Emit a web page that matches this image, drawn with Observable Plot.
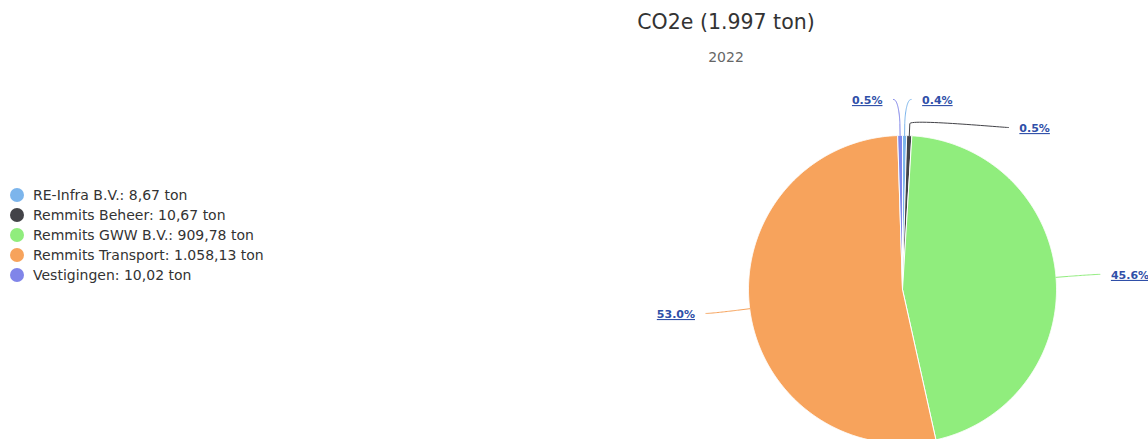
<!DOCTYPE html>
<html><head><meta charset="utf-8">
<script src="https://cdn.jsdelivr.net/npm/d3@7"></script>
<script src="https://cdn.jsdelivr.net/npm/@observablehq/plot@0.6"></script>
<style>
html,body{margin:0;padding:0;background:#fff;overflow:hidden;}
#wrap{position:relative;width:1148px;height:439px;font-family:"DejaVu Sans",sans-serif;}
#wrap svg{position:absolute;left:0;top:0;}
#title{position:absolute;left:0;width:1452px;text-align:center;top:12px;font-size:20.5px;line-height:20px;color:#333333;}
#subtitle{position:absolute;left:0;width:1452px;text-align:center;top:50px;font-size:14px;line-height:14px;color:#666666;}
#legend{position:absolute;left:10px;top:188px;font-size:14px;color:#333333;}
.li{height:20px;line-height:14px;display:flex;align-items:flex-start;white-space:nowrap;}
.sw{width:14px;height:14px;border-radius:50%;margin-right:9px;margin-top:0px;flex:none;}
g[aria-label="text"] text{text-decoration:underline;}
</style></head><body><div id="wrap"></div>
<script>
// ---- data ----
const categories = ["RE-Infra B.V.", "Remmits Beheer", "Remmits GWW B.V.", "Remmits Transport", "Vestigingen"];
const values = [8.67, 10.67, 909.78, 1058.13, 10.02];
const colors = ["#7cb5ec", "#434348", "#90ed7d", "#f7a35c", "#8085e9"];
const unit = "ton";
const metric = "CO2e";
const year = "2022";

// ---- layout ----
const W = 1148, H = 439;
const cx = 902, cy = 289, r = 154, R = 192;
const labelGap = 28, minLabelY = 99, pad = 6, breakOff = 12;

const nl = d3.formatLocale({decimal: ",", thousands: ".", grouping: [3], currency: ["€", ""]});
const total = d3.sum(values);
const data = categories.map((name, i) => ({name, value: values[i], color: colors[i]}));
const arcs = d3.pie().sort(null).value(d => d.value)(data);

// slice polygons
const slicePts = [];
for (const a of arcs) {
  const n = Math.max(2, Math.ceil((a.endAngle - a.startAngle) / 0.005));
  slicePts.push({name: a.data.name, x: cx, y: cy});
  for (let k = 0; k <= n; k++) {
    const t = a.startAngle + (a.endAngle - a.startAngle) * k / n;
    slicePts.push({name: a.data.name, x: cx + r * Math.sin(t), y: cy - r * Math.cos(t)});
  }
  slicePts.push({name: a.data.name, x: cx, y: cy});
}

// labels (Highcharts-like distribution)
arcs.forEach(a => {
  a.mid = (a.startAngle + a.endAngle) / 2;
  a.right = a.mid < Math.PI;
  a.ny = cy - R * Math.cos(a.mid);
  a.pct = a.data.value / total * 100;
});
for (const side of [true, false]) {
  const list = arcs.filter(a => a.right === side).sort((p, q) => p.ny - q.ny);
  let prev = -Infinity;
  for (const a of list) { a.yd = Math.max(a.ny, prev + labelGap); prev = a.yd; }
  prev = -Infinity;
  for (const a of list) { a.yf = Math.max(a.ny, prev + labelGap, minLabelY); prev = a.yf; }
  for (const a of list) {
    const dy = a.yd - cy;
    const dx = Math.sqrt(Math.max(0, R * R - dy * dy)) + pad;
    a.xe = cx + (side ? dx : -dx);
  }
}
const connPts = [];
const labels = [];
for (const a of arcs) {
  const s = Math.sin(a.mid), c = Math.cos(a.mid);
  const touch = [cx + r * s, cy - r * c];
  const brk = [cx + (r + breakOff) * s, cy - (r + breakOff) * c];
  const end = [a.xe, a.yf];
  const c1 = [end[0] + (a.right ? -5 : 5), end[1]];
  const c2 = [brk[0] + 0.4 * (brk[0] - touch[0]), brk[1] + 0.4 * (brk[1] - touch[1])];
  for (let k = 0; k <= 30; k++) {
    const t = k / 30, u = 1 - t;
    connPts.push({name: a.data.name,
      x: u*u*u*end[0] + 3*u*u*t*c1[0] + 3*u*t*t*c2[0] + t*t*t*brk[0],
      y: u*u*u*end[1] + 3*u*u*t*c1[1] + 3*u*t*t*c2[1] + t*t*t*brk[1]});
  }
  connPts.push({name: a.data.name, x: touch[0], y: touch[1]});
  labels.push({name: a.data.name, right: a.right, x: end[0] + (a.right ? 11 : -11), y: end[1] + 1, text: d3.format(".1f")(a.pct) + "%"});
}

const color = {domain: categories, range: colors};
const plot = Plot.plot({
  width: W, height: H, margin: 0,
  x: {domain: [0, W], range: [0, W], axis: null},
  y: {domain: [0, H], range: [0, H], axis: null},
  color,
  style: {background: "transparent", fontFamily: "DejaVu Sans"},
  marks: [
    Plot.line(slicePts, {x: "x", y: "y", z: "name", fill: "name", stroke: "#ffffff", strokeWidth: 1, strokeLinejoin: "round"}),
    Plot.line(connPts, {x: "x", y: "y", z: "name", stroke: "name", strokeWidth: 1}),
    Plot.text(labels.filter(d => d.right), {x: "x", y: "y", text: "text", textAnchor: "start", fill: "#2f4fa8", fontWeight: "bold", fontSize: 11}),
    Plot.text(labels.filter(d => !d.right), {x: "x", y: "y", text: "text", textAnchor: "end", fill: "#2f4fa8", fontWeight: "bold", fontSize: 11})
  ]
});

const wrap = document.getElementById("wrap");
wrap.appendChild(plot);
const title = document.createElement("div");
title.id = "title";
title.textContent = `${metric} (${nl.format(",.0f")(total)} ${unit})`;
wrap.appendChild(title);
const sub = document.createElement("div");
sub.id = "subtitle";
sub.textContent = year;
wrap.appendChild(sub);
const leg = document.createElement("div");
leg.id = "legend";
data.forEach(d => {
  const row = document.createElement("div");
  row.className = "li";
  const sw = document.createElement("span");
  sw.className = "sw";
  sw.style.background = d.color;
  const tx = document.createElement("span");
  tx.textContent = `${d.name}: ${nl.format(",.2f")(d.value)} ${unit}`;
  row.appendChild(sw); row.appendChild(tx);
  leg.appendChild(row);
});
wrap.appendChild(leg);
</script></body></html>
